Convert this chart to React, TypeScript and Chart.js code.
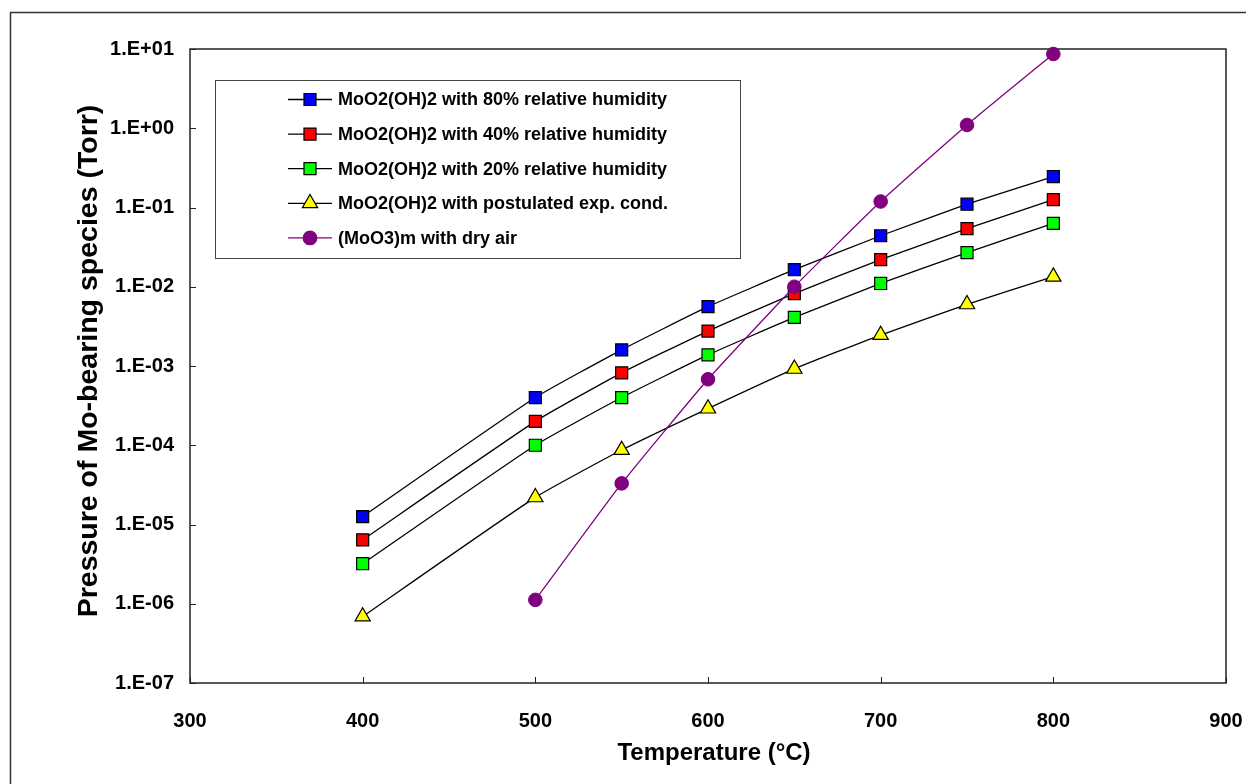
import React, { useEffect, useRef } from "react";
import { Chart, registerables } from "chart.js";

Chart.register(...registerables);

// ---- Data ----
const temperatures = [400, 500, 550, 600, 650, 700, 750, 800];
const rh80 = [1.26e-5, 4.0e-4, 1.6e-3, 5.6e-3, 1.64e-2, 4.4e-2, 1.1e-1, 2.46e-1];
const rh40 = [6.4e-6, 2.0e-4, 8.2e-4, 2.76e-3, 8.2e-3, 2.2e-2, 5.4e-2, 1.26e-1];
const rh20 = [3.2e-6, 1.0e-4, 4.0e-4, 1.38e-3, 4.1e-3, 1.1e-2, 2.7e-2, 6.3e-2];
const postulated = [6.9e-7, 2.2e-5, 8.7e-5, 2.9e-4, 9.2e-4, 2.46e-3, 6.0e-3, 1.34e-2];
const dryAirTemps = [500, 550, 600, 650, 700, 750, 800];
const dryAir = [1.12e-6, 3.3e-5, 6.8e-4, 1.0e-2, 1.19e-1, 1.1, 8.65];

const seriesLabels = [
  "MoO2(OH)2 with 80% relative humidity",
  "MoO2(OH)2 with 40% relative humidity",
  "MoO2(OH)2 with 20% relative humidity",
  "MoO2(OH)2 with postulated exp. cond.",
  "(MoO3)m with dry air",
];
const yTickValues = [1e-7, 1e-6, 1e-5, 1e-4, 1e-3, 1e-2, 1e-1, 1e0, 1e1];
const yTickLabels = ["1.E-07", "1.E-06", "1.E-05", "1.E-04", "1.E-03", "1.E-02", "1.E-01", "1.E+00", "1.E+01"];
const xTickValues = [300, 400, 500, 600, 700, 800, 900];
const xTitle = "Temperature (°C)";
const yTitle = "Pressure of Mo-bearing species (Torr)";

const FONT = '"Liberation Sans", Arial, Helvetica, sans-serif';

type Sty = { style: string; fill: string; line: string; radius: number };
const styles: Sty[] = [
  { style: "rect", fill: "#0000FF", line: "#000000", radius: 8.5 },
  { style: "rect", fill: "#FF0000", line: "#000000", radius: 8.5 },
  { style: "rect", fill: "#00FF00", line: "#000000", radius: 8.5 },
  { style: "triangle", fill: "#FFFF00", line: "#000000", radius: 8.8 },
  { style: "circle", fill: "#800080", line: "#800080", radius: 6.8 },
];

function pts(xs: number[], ys: number[]) {
  return xs.map((x, i) => ({ x, y: ys[i] }));
}

function drawMarker(ctx: CanvasRenderingContext2D, s: Sty, x: number, y: number) {
  ctx.beginPath();
  if (s.style === "rect") {
    const h = s.radius * Math.SQRT1_2;
    ctx.rect(x - h, y - h, 2 * h, 2 * h);
  } else if (s.style === "triangle") {
    const r = s.radius;
    ctx.moveTo(x, y - r);
    ctx.lineTo(x + r * Math.sin((2 * Math.PI) / 3), y - r * Math.cos((2 * Math.PI) / 3));
    ctx.lineTo(x + r * Math.sin((4 * Math.PI) / 3), y - r * Math.cos((4 * Math.PI) / 3));
    ctx.closePath();
  } else {
    ctx.arc(x, y, s.radius, 0, Math.PI * 2);
  }
  ctx.fillStyle = s.fill;
  ctx.fill();
  ctx.strokeStyle = s.line;
  ctx.lineWidth = 1.2;
  ctx.stroke();
}

const decorPlugin = {
  id: "decor",
  beforeDatasetsDraw(chart: any) {
    const { ctx, chartArea: a, scales } = chart;
    ctx.save();
    // outer border (left + top)
    ctx.strokeStyle = "#333";
    ctx.lineWidth = 1.5;
    ctx.beginPath();
    ctx.moveTo(10.5, 784);
    ctx.lineTo(10.5, 12.5);
    ctx.lineTo(1246, 12.5);
    ctx.stroke();
    // plot frame
    ctx.strokeStyle = "#222";
    ctx.lineWidth = 1.5;
    ctx.strokeRect(a.left, a.top, a.right - a.left, a.bottom - a.top);
    // inward tick marks
    ctx.lineWidth = 1;
    ctx.strokeStyle = "#222";
    ctx.beginPath();
    yTickValues.forEach((v) => {
      const y = Math.round(scales.y.getPixelForValue(v)) + 0.5;
      ctx.moveTo(a.left, y);
      ctx.lineTo(a.left + 6, y);
    });
    xTickValues.forEach((v) => {
      const x = Math.round(scales.x.getPixelForValue(v)) + 0.5;
      ctx.moveTo(x, a.bottom);
      ctx.lineTo(x, a.bottom - 6);
    });
    ctx.stroke();
    // axis titles
    ctx.fillStyle = "#000";
    ctx.font = `bold 24px ${FONT}`;
    ctx.textAlign = "center";
    ctx.textBaseline = "alphabetic";
    ctx.fillText(xTitle, 714, 760);
    ctx.save();
    ctx.translate(97, 361);
    ctx.rotate(-Math.PI / 2);
    ctx.font = `bold 28.5px ${FONT}`;
    ctx.fillText(yTitle, 0, 0);
    ctx.restore();
    ctx.restore();
  },
  afterDatasetsDraw(chart: any) {
    const { ctx } = chart;
    ctx.save();
    const L = 215.5, T = 80.5, R = 740.5, B = 258.5;
    ctx.fillStyle = "#fff";
    ctx.fillRect(L, T, R - L, B - T);
    ctx.strokeStyle = "#444";
    ctx.lineWidth = 1;
    ctx.strokeRect(L, T, R - L, B - T);
    ctx.font = `bold 18px ${FONT}`;
    ctx.textAlign = "left";
    ctx.textBaseline = "middle";
    seriesLabels.forEach((lab, i) => {
      const y = 99.5 + i * 34.6;
      const s = styles[i];
      ctx.strokeStyle = s.line;
      ctx.lineWidth = 1.3;
      ctx.beginPath();
      ctx.moveTo(288, y);
      ctx.lineTo(332, y);
      ctx.stroke();
      drawMarker(ctx, s, 310, y);
      ctx.fillStyle = "#000";
      ctx.fillText(lab, 338, y + 1);
    });
    ctx.restore();
  },
};

export default function App() {
  const ref = useRef<HTMLCanvasElement | null>(null);
  useEffect(() => {
    if (!ref.current) return;
    const seriesValues = [rh80, rh40, rh20, postulated];
    const datasets: any[] = seriesValues.map((vals, i) => ({
      label: seriesLabels[i],
      data: pts(temperatures, vals),
      borderColor: styles[i].line,
      borderWidth: 1.3,
      backgroundColor: styles[i].fill,
      pointStyle: styles[i].style,
      pointRadius: styles[i].radius,
      pointBackgroundColor: styles[i].fill,
      pointBorderColor: "#000",
      pointBorderWidth: 1.2,
      tension: 0.15,
      clip: false,
      order: 1,
    }));
    datasets.push({
      label: seriesLabels[4],
      data: pts(dryAirTemps, dryAir),
      borderColor: "#800080",
      borderWidth: 1.3,
      backgroundColor: "#800080",
      pointStyle: "circle",
      pointRadius: styles[4].radius,
      pointBackgroundColor: "#800080",
      pointBorderColor: "#800080",
      pointBorderWidth: 1,
      tension: 0.15,
      clip: false,
      order: 0,
    });

    const chart = new Chart(ref.current, {
      type: "line",
      data: { datasets },
      options: {
        animation: false,
        responsive: false,
        devicePixelRatio: 1,
        layout: { padding: { top: 49, right: 20, left: 0, bottom: 0 } },
        plugins: { legend: { display: false }, tooltip: { enabled: false } },
        scales: {
          x: {
            type: "linear",
            min: 300,
            max: 900,
            grid: { display: false, drawTicks: false },
            border: { display: false },
            afterFit: (s: any) => {
              s.height = 101;
              s.paddingLeft = 0;
              s.paddingRight = 0;
            },
            afterBuildTicks: (s: any) => {
              s.ticks = xTickValues.map((v) => ({ value: v }));
            },
            ticks: {
              padding: 26,
              maxRotation: 0,
              color: "#000",
              font: { family: FONT, size: 20, weight: "bold" },
              callback: (v: any) => String(v),
            },
          },
          y: {
            type: "logarithmic",
            min: 1e-7,
            max: 1e1,
            grid: { display: false, drawTicks: false },
            border: { display: false },
            afterFit: (s: any) => {
              s.width = 190;
              s.paddingTop = 0;
              s.paddingBottom = 0;
            },
            afterBuildTicks: (s: any) => {
              s.ticks = yTickValues.map((v) => ({ value: v }));
            },
            ticks: {
              padding: 16,
              color: "#000",
              font: { family: FONT, size: 20, weight: "bold" },
              callback: (_v: any, i: number) => yTickLabels[i],
            },
          },
        },
      } as any,
      plugins: [decorPlugin as any],
    });
    return () => chart.destroy();
  }, []);

  return (
    <div style={{ position: "fixed", left: 0, top: 0, width: 1246, height: 784, background: "#fff" }}>
      <canvas ref={ref} width={1246} height={784} style={{ display: "block" }} />
    </div>
  );
}
